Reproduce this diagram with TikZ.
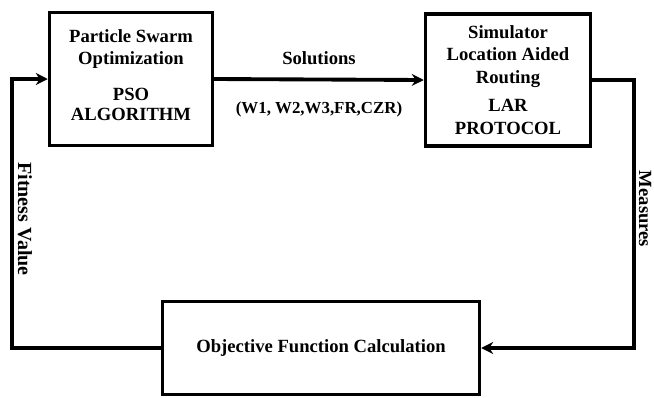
\documentclass[tikz,border=0pt]{standalone}
\usepackage{fontspec}
\setmainfont{Liberation Serif}
\usepackage{tikz}
\usetikzlibrary{arrows.meta,positioning,calc}

\begin{document}
\begin{tikzpicture}[
  x=0.02cm,
  y=-0.02cm,
  box/.style={draw, line width=2pt, align=center, inner sep=0pt, font=\bfseries\fontsize{10.6}{13}\selectfont},
  lbl/.style={font=\bfseries\fontsize{10.6}{13}\selectfont},
  flow/.style={line width=2.2pt, -{Stealth[length=2.4mm, width=2.4mm]}},
]

% Frame
\useasboundingbox (0,0) rectangle (654,397);

% Blocks
\node[box, minimum width=3.26cm, minimum height=2.66cm,
      font=\bfseries\fontsize{10.6}{11.5}\selectfont] (pso) at (131,79)
  {Particle Swarm\\[1pt]Optimization\\[9pt]PSO\\ALGORITHM\\[-7pt]};
\node[box, minimum width=3.3cm, minimum height=2.64cm] (lar) at (508,80)
  {Simulator\\Location Aided\\Routing\\[3pt]LAR\\PROTOCOL};
\node[box, minimum width=6.34cm, minimum height=1.86cm] (obj) at (321,348)
  {Objective Function Calculation};

% Corners of the feedback loop
\coordinate (lft) at (12,79);
\coordinate (rgt) at (634,348);

% Connectors
\draw[flow] (pso.east) -- (lar.west)
  node[midway, above=4pt, lbl] (sol) {Solutions}
  node[midway, below=8pt, lbl, font=\bfseries\fontsize{9.6}{12}\selectfont] (par) {(W1, W2,W3,FR,CZR)};
\draw[flow] (lar.east) -| (rgt) -- (obj.east);
\draw[flow] (obj.west) -| (lft) -- (pso.west);

% Side labels
\node[lbl, rotate=-90, font=\bfseries\fontsize{11.4}{13}\selectfont] (fit) at (25,219) {Fitness Value};
\node[lbl, rotate=-90] (mes) at (645,209) {Measures};

\end{tikzpicture}
\end{document}
